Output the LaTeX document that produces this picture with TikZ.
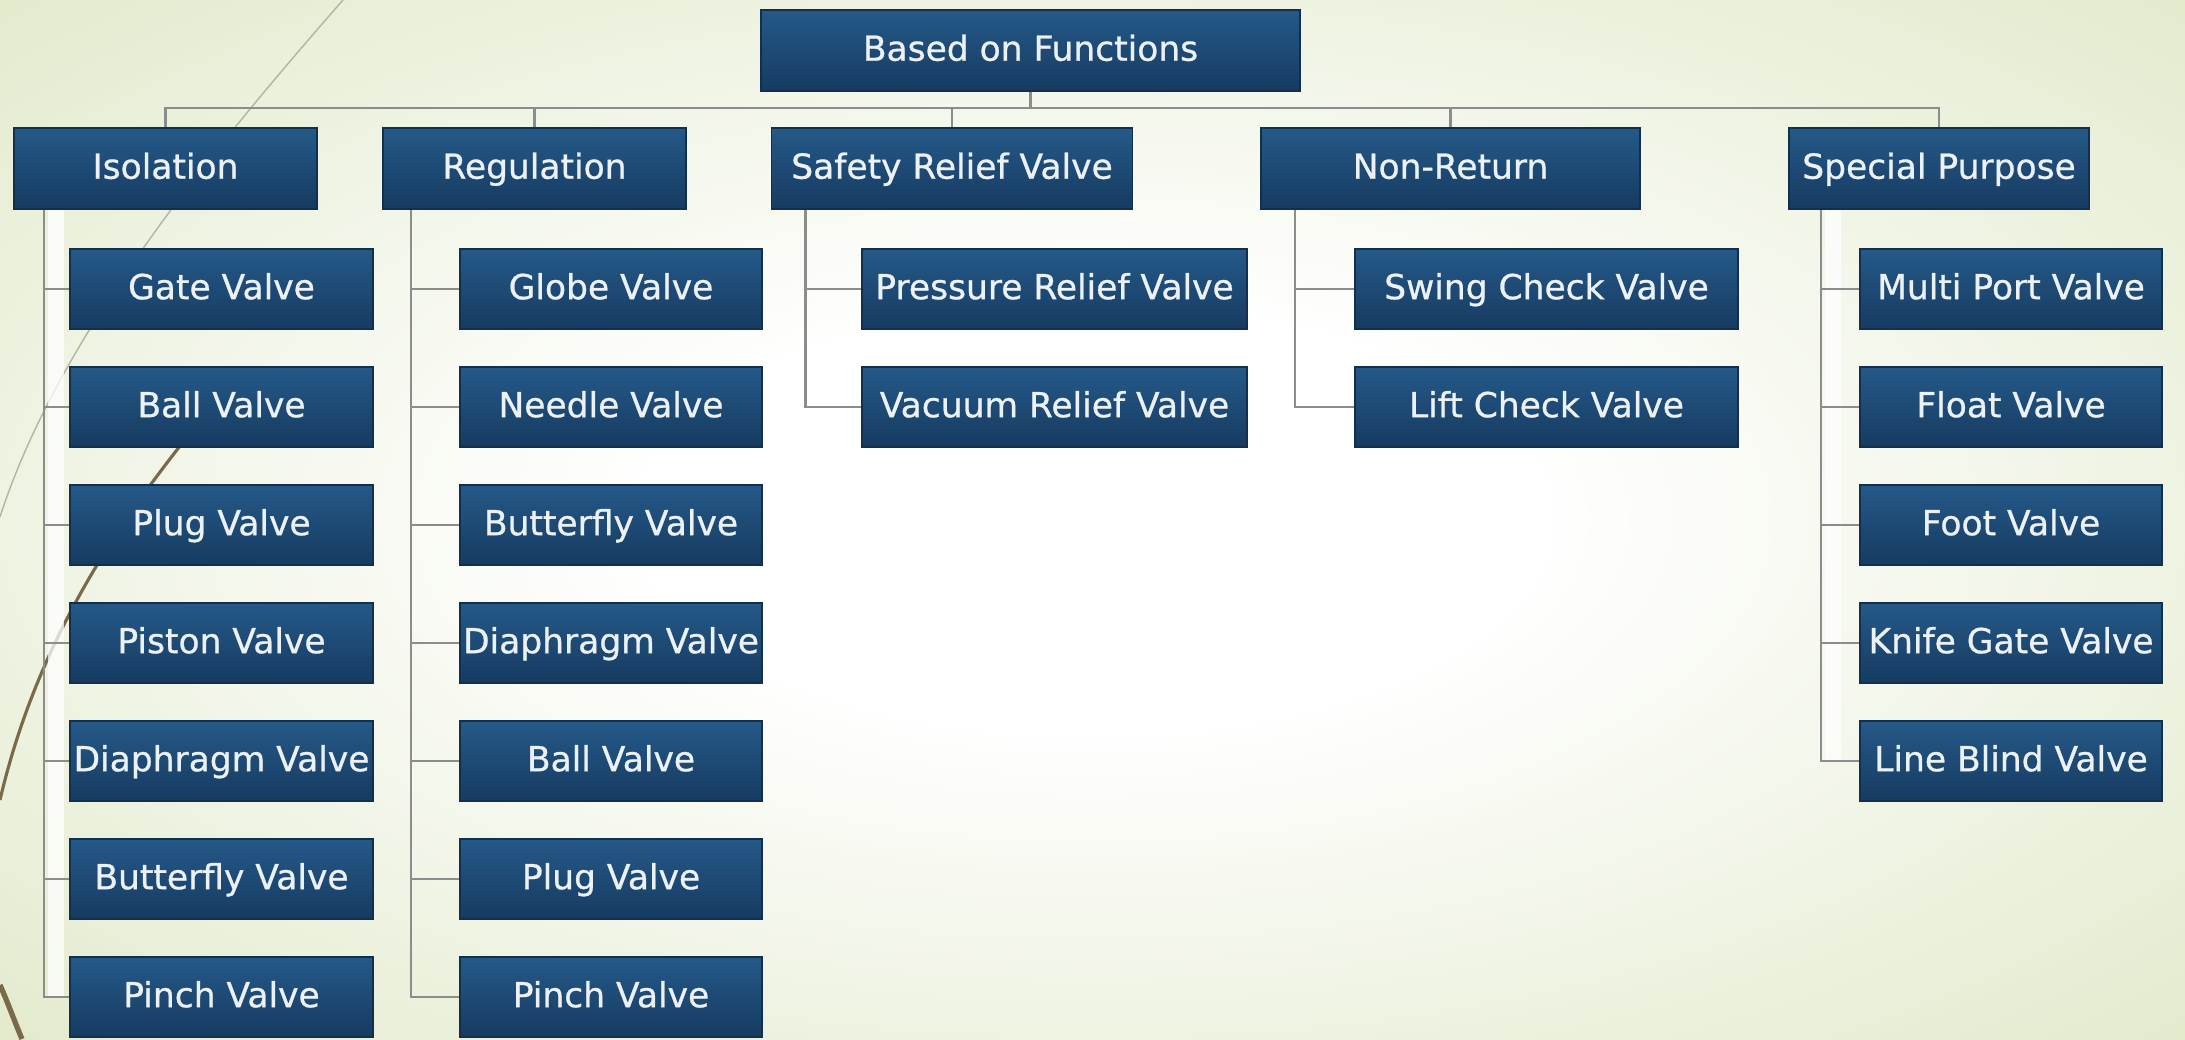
\documentclass[tikz,border=0pt]{standalone}
\usepackage{fontspec}
\newfontfamily\valvefont[FakeBold=0.8]{DejaVu Sans}
\usetikzlibrary{calc}
\usepackage{xcolor}
\definecolor{bgedge}{RGB}{226,234,204}
\definecolor{boxtop}{RGB}{37,89,136}
\definecolor{boxbot}{RGB}{22,59,97}
\definecolor{boxedge}{RGB}{18,48,78}
\definecolor{boxtext}{RGB}{236,241,246}
\definecolor{linkgray}{RGB}{140,140,140}
\definecolor{wispgray}{RGB}{178,181,160}
\definecolor{wispbrown}{RGB}{122,106,74}
\pgfdeclareradialshading{slidebg}{\pgfpoint{0bp}{0bp}}{%
  color(0bp)=(white); color(10bp)=(white); color(36bp)=(bgedge); color(50bp)=(bgedge)}
\tikzset{
    valve/.style={
        draw=boxedge,line width=0.4pt,top color=boxtop,bottom color=boxbot,
        text=boxtext,font=\valvefont\fontsize{9.8}{11}\selectfont,
        text height=7.4pt,text depth=1.6pt,
        minimum width=#1,minimum height=0.8cm,inner sep=0pt
    },
    valve/.default=3.03cm,
    classbox/.style={
        valve=#1,minimum height=0.81cm
    },
    classbox/.default=3.03cm,
    link/.style={
        draw=linkgray,line width=0.7pt
    },
    glow/.style={
        fill=white,opacity=0.75
    },
    wispthin/.style={draw=wispgray,line width=0.4pt},
    wispthick/.style={draw=wispbrown,line width=0.9pt}
}
\begin{document}
\begin{tikzpicture}[x=0.01cm,y=-0.01cm]

\useasboundingbox (0,0) rectangle (2185,1039);
\shade[shading=slidebg] (0,0) rectangle (2185,1039);

% theme lines on the left
\draw[wispthin] (343,0) .. controls (225,135) and (60,330) .. (0,517);
\draw[wispthick] (205,415) .. controls (110,530) and (35,650) .. (0,800);
\draw[wispthick,line width=1.5pt] (0,985) .. controls (8,1003) and (14,1020) .. (22,1039);

% top levels
\node[classbox=5.39cm] (root) at (1030.5,50.5) {Based on Functions};

\node[classbox=3.03cm] (iso) at (165.5,168.5) {Isolation};
\node[classbox=3.03cm] (reg) at (534.5,168.5) {Regulation};
\node[classbox=3.61cm] (saf) at (952,168.5) {Safety Relief Valve};
\node[classbox=3.79cm] (non) at (1450.5,168.5) {Non-Return};
\node[classbox=3.00cm] (spc) at (1939,168.5) {Special Purpose};

% isolation
\node[valve] (iso1) at (221.5,289) {Gate Valve};
\node[valve] (iso2) at (221.5,407) {Ball Valve};
\node[valve] (iso3) at (221.5,525) {Plug Valve};
\node[valve] (iso4) at (221.5,643) {Piston Valve};
\node[valve] (iso5) at (221.5,761) {Diaphragm Valve};
\node[valve] (iso6) at (221.5,879) {Butterfly Valve};
\node[valve] (iso7) at (221.5,997) {Pinch Valve};

% regulation
\node[valve=3.02cm] (reg1) at (611,289) {Globe Valve};
\node[valve=3.02cm] (reg2) at (611,407) {Needle Valve};
\node[valve=3.02cm] (reg3) at (611,525) {Butterfly Valve};
\node[valve=3.02cm] (reg4) at (611,643) {Diaphragm Valve};
\node[valve=3.02cm] (reg5) at (611,761) {Ball Valve};
\node[valve=3.02cm] (reg6) at (611,879) {Plug Valve};
\node[valve=3.02cm] (reg7) at (611,997) {Pinch Valve};

% safety relief
\node[valve=3.85cm] (saf1) at (1054.5,289) {Pressure Relief Valve};
\node[valve=3.85cm] (saf2) at (1054.5,407) {Vacuum Relief Valve};

% non-return
\node[valve=3.83cm] (non1) at (1546.5,289) {Swing Check Valve};
\node[valve=3.83cm] (non2) at (1546.5,407) {Lift Check Valve};

% special purpose
\node[valve=3.02cm] (spc1) at (2011,289) {Multi Port Valve};
\node[valve=3.02cm] (spc2) at (2011,407) {Float Valve};
\node[valve=3.02cm] (spc3) at (2011,525) {Foot Valve};
\node[valve=3.02cm] (spc4) at (2011,643) {Knife Gate Valve};
\node[valve=3.02cm] (spc5) at (2011,761) {Line Blind Valve};

% bus
\coordinate (bus) at (0,108);
\draw[link] (root.south) -- (root.south |- bus);
\draw[link] (iso.north) -- (iso.north |- bus) -- (spc.north |- bus) -- (spc.north);
\draw[link] (reg.north |- bus) -- (reg.north);
\draw[link] (saf.north |- bus) -- (saf.north);
\draw[link] (non.north |- bus) -- (non.north);

% trunks
\coordinate (isoT) at ([xshift=0.31cm]iso.south west);
\coordinate (regT) at ([xshift=0.29cm]reg.south west);
\coordinate (safT) at ([xshift=0.35cm]saf.south west);
\coordinate (nonT) at ([xshift=0.35cm]non.south west);
\coordinate (spcT) at ([xshift=0.33cm]spc.south west);

\fill[glow] ([xshift=0.04cm]isoT) rectangle ([xshift=0.2cm]isoT |- iso7.west);
\fill[glow] ([xshift=0.04cm]spcT) rectangle ([xshift=0.2cm]spcT |- spc5.west);

\draw[link] (isoT) |- (iso1.west) (isoT) |- (iso2.west) (isoT) |- (iso3.west)
    (isoT) |- (iso4.west) (isoT) |- (iso5.west) (isoT) |- (iso6.west) (isoT) |- (iso7.west);
\draw[link] (regT) |- (reg1.west) (regT) |- (reg2.west) (regT) |- (reg3.west)
    (regT) |- (reg4.west) (regT) |- (reg5.west) (regT) |- (reg6.west) (regT) |- (reg7.west);
\draw[link] (safT) |- (saf1.west) (safT) |- (saf2.west);
\draw[link] (nonT) |- (non1.west) (nonT) |- (non2.west);
\draw[link] (spcT) |- (spc1.west) (spcT) |- (spc2.west) (spcT) |- (spc3.west)
    (spcT) |- (spc4.west) (spcT) |- (spc5.west);

\end{tikzpicture}
\end{document}
